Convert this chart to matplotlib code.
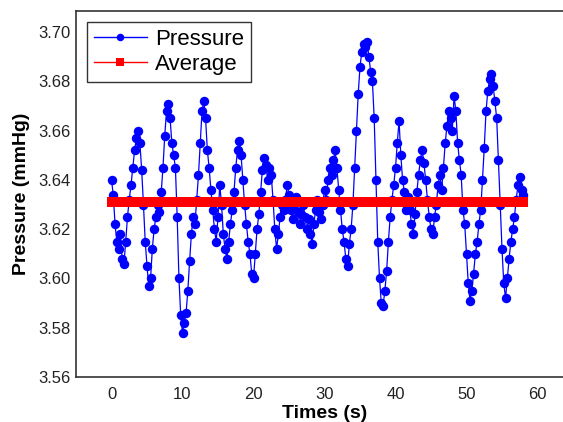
import numpy as np
import matplotlib.pyplot as plt

plt.rcParams['font.family'] = ['Liberation Sans', 'DejaVu Sans']

# pressure readings, 4 samples per second from 0 to 58 s
pressure = [
    3.640, 3.634, 3.622, 3.615,
    3.612, 3.618, 3.608, 3.606,
    3.615, 3.625, 3.632, 3.638,
    3.645, 3.652, 3.657, 3.660,
    3.655, 3.644, 3.630, 3.615,
    3.605, 3.597, 3.600, 3.612,
    3.620, 3.625, 3.630, 3.627,
    3.635, 3.645, 3.658, 3.668,
    3.671, 3.665, 3.655, 3.650,
    3.645, 3.625, 3.600, 3.585,
    3.578, 3.582, 3.586, 3.595,
    3.607, 3.618, 3.625, 3.622,
    3.632, 3.642, 3.655, 3.668,
    3.672, 3.665, 3.652, 3.645,
    3.636, 3.628, 3.620, 3.615,
    3.625, 3.638, 3.630, 3.618,
    3.612, 3.608, 3.615, 3.622,
    3.628, 3.635, 3.645, 3.652,
    3.656, 3.650, 3.640, 3.630,
    3.622, 3.615, 3.610, 3.602,
    3.600, 3.610, 3.620, 3.626,
    3.635, 3.644, 3.649, 3.646,
    3.640, 3.645, 3.642, 3.632,
    3.620, 3.612, 3.618, 3.625,
    3.630, 3.628, 3.632, 3.638,
    3.634, 3.628, 3.624, 3.630,
    3.633, 3.627, 3.622, 3.626,
    3.630, 3.625, 3.620, 3.624,
    3.618, 3.614, 3.622, 3.628,
    3.632, 3.627, 3.624, 3.630,
    3.636, 3.632, 3.640, 3.645,
    3.642, 3.648, 3.652, 3.645,
    3.636, 3.628, 3.620, 3.615,
    3.608, 3.605, 3.614, 3.620,
    3.630, 3.645, 3.660, 3.675,
    3.686, 3.692, 3.695, 3.694,
    3.696, 3.690, 3.684, 3.680,
    3.665, 3.640, 3.615, 3.600,
    3.590, 3.589, 3.595, 3.603,
    3.615, 3.625, 3.632, 3.638,
    3.645, 3.655, 3.664, 3.650,
    3.640, 3.635, 3.628, 3.633,
    3.628, 3.622, 3.618, 3.626,
    3.635, 3.642, 3.648, 3.652,
    3.647, 3.640, 3.632, 3.625,
    3.620, 3.618, 3.625, 3.630,
    3.638, 3.642, 3.636, 3.645,
    3.655, 3.662, 3.668, 3.665,
    3.660, 3.674, 3.668, 3.655,
    3.648, 3.642, 3.628, 3.622,
    3.610, 3.598, 3.591, 3.595,
    3.602, 3.610, 3.615, 3.622,
    3.628, 3.640, 3.653, 3.668,
    3.676, 3.681, 3.683, 3.678,
    3.672, 3.665, 3.648, 3.630,
    3.612, 3.598, 3.592, 3.600,
    3.608, 3.615, 3.620, 3.625,
    3.632, 3.638, 3.641, 3.636,
    3.634,
]
times = np.arange(len(pressure)) * 0.25
avg_value = 3.631
average = [avg_value] * len(times)

fig = plt.figure(figsize=(5.63, 4.22), dpi=100)
ax = fig.add_axes([76 / 563, 45 / 422, 497 / 563, 366 / 422])

ax.plot(times, pressure, color='blue', linewidth=0.9, marker='o',
        markersize=6.8, markeredgewidth=0, label='Pressure')
ax.plot(times, average, color='red', linewidth=1, marker='s',
        markersize=7.5, markeredgewidth=0, label='Average')

ax.set_xlim(-5, 65)
ax.set_ylim(3.56, 3.7086)
ax.set_xticks(range(0, 61, 10))
ax.set_yticks(np.arange(3.56, 3.701, 0.02))
ax.set_yticklabels([f'{v:.2f}' for v in np.arange(3.56, 3.701, 0.02)])
ax.tick_params(axis='both', length=0, labelsize=12, labelcolor='#222222')
ax.tick_params(axis='x', pad=7)
ax.tick_params(axis='y', pad=4)
ax.spines['right'].set_visible(False)
for s in ['left', 'top', 'bottom']:
    ax.spines[s].set_linewidth(1.2)
    ax.spines[s].set_color('#333333')

ax.set_xlabel('Times (s)', fontsize=14, fontweight='bold', labelpad=2)
ax.set_ylabel('Pressure (mmHg)', fontsize=14, fontweight='bold', labelpad=6)

leg = ax.legend(loc='upper left', fontsize=16, numpoints=1, fancybox=False,
                edgecolor='#333333', framealpha=1, handlelength=2.4,
                handletextpad=0.35, labelspacing=0.2, borderpad=0.3,
                borderaxespad=0.5, markerscale=0.8)
leg.get_frame().set_linewidth(1.0)
for line in leg.get_lines():
    line.set_linewidth(1.0)

fig.savefig('out.png', dpi=100)
